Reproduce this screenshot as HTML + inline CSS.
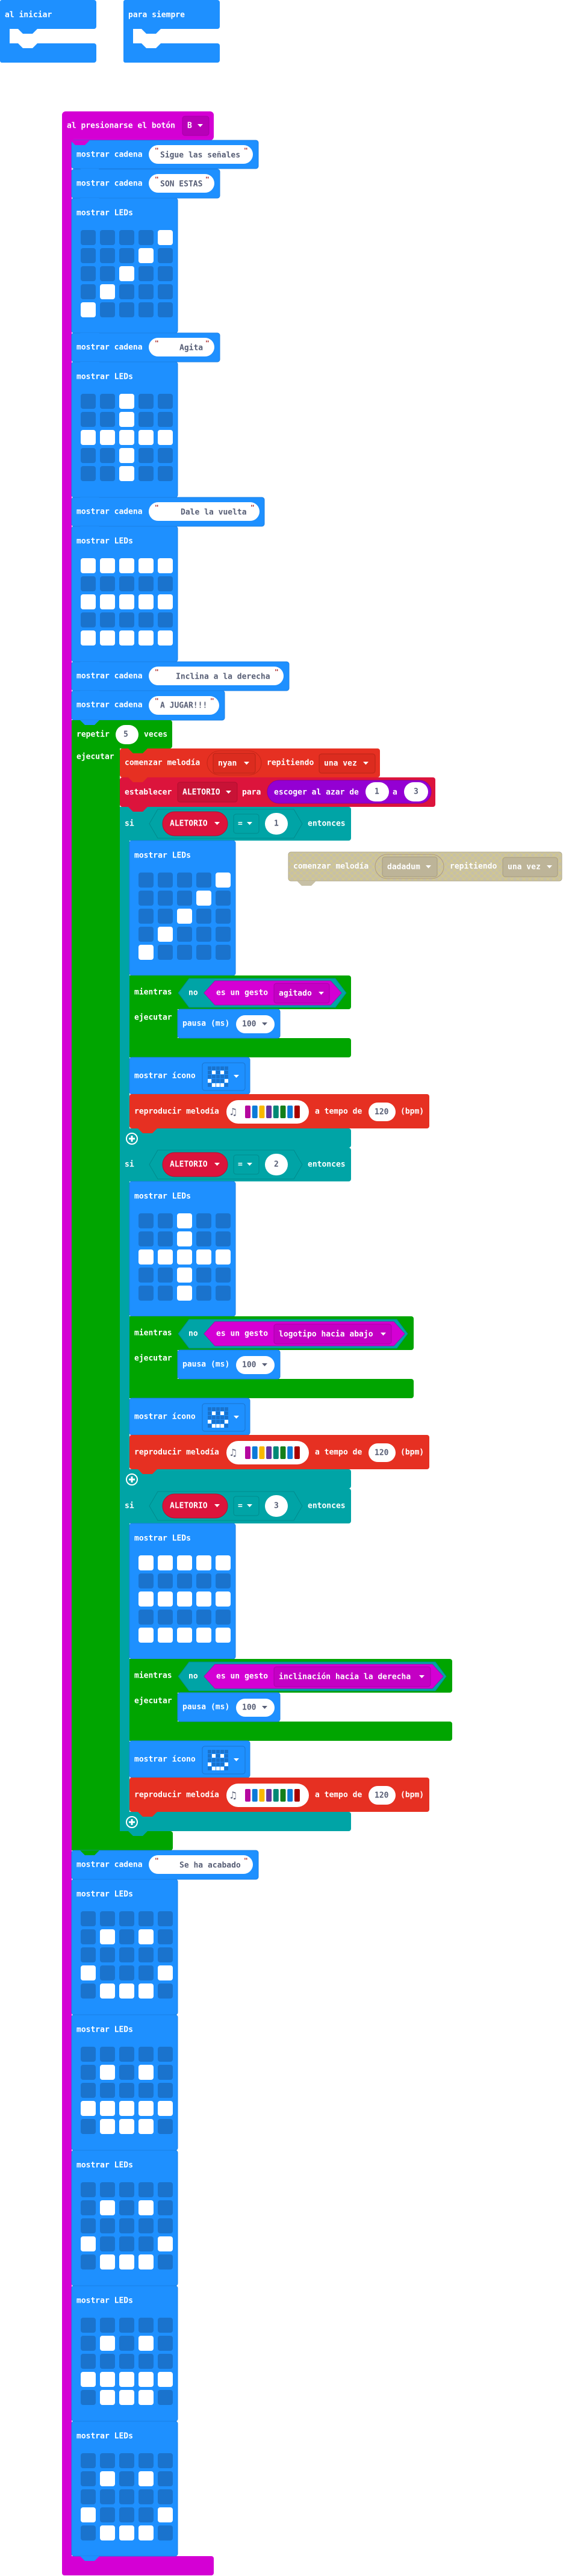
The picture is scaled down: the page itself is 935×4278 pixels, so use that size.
<!DOCTYPE html>
<html><head><meta charset="utf-8"><style>
html,body{margin:0;padding:0;background:#fff;}
svg{display:block;}
text{font-family:"DejaVu Sans Mono","Liberation Mono",monospace;font-weight:bold;font-size:13px;dominant-baseline:central;}
.t{fill:#fff;}
.s{fill:#575e75;}
.q{fill:#a31515;font-size:11px;}
.tri{font-size:9px;}
</style></head><body>
<svg width="935" height="4278" viewBox="0 0 935 4278" xmlns="http://www.w3.org/2000/svg">
<defs>
<pattern id="led" width="32" height="30" patternUnits="userSpaceOnUse"><rect width="25" height="25" rx="4" fill="#1a73cd"/></pattern>
<pattern id="mini" width="7" height="7" patternUnits="userSpaceOnUse"><rect width="6" height="6" fill="#1a73cd"/></pattern>
<pattern id="hatch" width="10" height="10" patternUnits="userSpaceOnUse"><rect width="10" height="10" fill="#c7c0a6"/><path d="M0,0L10,10M10,0L0,10" stroke="#e8d95a" stroke-width="0.7" opacity="0.6"/></pattern>
<g id="diag"><rect width="153" height="145" fill="url(#led)"/><g fill="#fff"><rect x="128" y="0" width="25" height="25" rx="4"/><rect x="96" y="30" width="25" height="25" rx="4"/><rect x="64" y="60" width="25" height="25" rx="4"/><rect x="32" y="90" width="25" height="25" rx="4"/><rect x="0" y="120" width="25" height="25" rx="4"/></g></g>
<g id="plus"><rect width="153" height="145" fill="url(#led)"/><g fill="#fff"><rect x="64" y="0" width="25" height="25" rx="4"/><rect x="64" y="30" width="25" height="25" rx="4"/><rect x="0" y="60" width="25" height="25" rx="4"/><rect x="32" y="60" width="25" height="25" rx="4"/><rect x="64" y="60" width="25" height="25" rx="4"/><rect x="96" y="60" width="25" height="25" rx="4"/><rect x="128" y="60" width="25" height="25" rx="4"/><rect x="64" y="90" width="25" height="25" rx="4"/><rect x="64" y="120" width="25" height="25" rx="4"/></g></g>
<g id="row"><rect x="0" width="25" height="25" rx="4"/><rect x="32" width="25" height="25" rx="4"/><rect x="64" width="25" height="25" rx="4"/><rect x="96" width="25" height="25" rx="4"/><rect x="128" width="25" height="25" rx="4"/></g>
<g id="stripes"><rect width="153" height="145" fill="url(#led)"/><g fill="#fff"><use href="#row" y="0"/><use href="#row" y="60"/><use href="#row" y="120"/></g></g>
<g id="smile"><rect width="153" height="145" fill="url(#led)"/><g fill="#fff"><rect x="32" y="30" width="25" height="25" rx="4"/><rect x="96" y="30" width="25" height="25" rx="4"/><rect x="0" y="90" width="25" height="25" rx="4"/><rect x="128" y="90" width="25" height="25" rx="4"/><rect x="32" y="120" width="25" height="25" rx="4"/><rect x="64" y="120" width="25" height="25" rx="4"/><rect x="96" y="120" width="25" height="25" rx="4"/></g></g>
<g id="smile2"><rect width="153" height="145" fill="url(#led)"/><g fill="#fff"><rect x="32" y="30" width="25" height="25" rx="4"/><rect x="96" y="30" width="25" height="25" rx="4"/><use href="#row" y="90"/><rect x="32" y="120" width="25" height="25" rx="4"/><rect x="64" y="120" width="25" height="25" rx="4"/><rect x="96" y="120" width="25" height="25" rx="4"/></g></g>
<g id="icon"><rect x="0" y="0" width="71" height="46" rx="4" fill="#1e90ff" stroke="#1a73cd"/><g transform="translate(9,6)"><rect width="34" height="34" fill="url(#mini)"/><g fill="#fff"><rect x="7" y="7" width="6" height="6"/><rect x="21" y="7" width="6" height="6"/><rect x="0" y="21" width="6" height="6"/><rect x="28" y="21" width="6" height="6"/><rect x="7" y="28" width="6" height="6"/><rect x="14" y="28" width="6" height="6"/><rect x="21" y="28" width="6" height="6"/></g></g><path d="M52,20h9l-4.5,5z" fill="#fff"/></g>
<g id="bars"><rect x="0" width="9" height="21" rx="2" fill="#b5089f"/><rect x="11.7" width="9" height="21" rx="2" fill="#0b7ad8"/><rect x="23.4" width="9" height="21" rx="2" fill="#f8b900"/><rect x="35.1" width="9" height="21" rx="2" fill="#64339e"/><rect x="46.8" width="9" height="21" rx="2" fill="#008876"/><rect x="58.5" width="9" height="21" rx="2" fill="#137f1a"/><rect x="70.2" width="9" height="21" rx="2" fill="#0b7ad8"/><rect x="81.9" width="9" height="21" rx="2" fill="#a80000"/></g>
<g id="plusc"><circle r="9" fill="none" stroke="#fff" stroke-width="2"/><path d="M-5,0h10M0,-5v10" stroke="#fff" stroke-width="3"/></g>
</defs>

<!-- top blocks -->
<g fill="#1e90ff">
<rect x="0" y="0" width="160" height="48" rx="4"/><rect x="0" y="0" width="16" height="104" rx="3"/><rect x="0" y="72" width="160" height="32" rx="4"/>
<path d="M30,48l8,8h16l8,-8z"/>
<rect x="205" y="0" width="160" height="48" rx="4"/><rect x="205" y="0" width="16" height="104" rx="3"/><rect x="205" y="72" width="160" height="32" rx="4"/>
<path d="M235,48l8,8h16l8,-8z"/>
</g>
<path d="M30,72l8,8h16l8,-8z M235,72l8,8h16l8,-8z" fill="#fff"/>
<text class="t" x="8" y="25">al iniciar</text>
<text class="t" x="213" y="25">para siempre</text>

<!-- hat -->
<g fill="#d400d4">
<rect x="103" y="185" width="252" height="48" rx="6"/>
<rect x="103" y="200" width="16" height="4070"/>
<rect x="103" y="4245" width="252" height="32" rx="4"/>
</g>
<text class="t" x="111" y="209">al presionarse el botón</text>
<rect x="303" y="193" width="44" height="32" rx="4" fill="#b800b8" stroke="#a600a6"/>
<text class="t" x="311" y="209">B</text><path d="M328,206h9l-4.5,5z" fill="#fff"/>

<!-- cadena blocks -->
<g fill="#1e90ff" stroke="#1a7fe6" stroke-width="1">
<rect x="119" y="233" width="310" height="47" rx="4"/>
<rect x="119" y="281" width="246" height="48" rx="4"/>
<rect x="119" y="329" width="176" height="224" rx="4"/>
<rect x="119" y="553" width="246" height="48" rx="4"/>
<rect x="119" y="601" width="176" height="225" rx="4"/>
<rect x="119" y="826" width="320" height="48" rx="4"/>
<rect x="119" y="874" width="176" height="225" rx="4"/>
<rect x="119" y="1099" width="361" height="48" rx="4"/>
<rect x="119" y="1147" width="254" height="49" rx="4"/>
</g>
<g fill="#fff">
<rect x="247" y="241" width="173" height="31" rx="15.5"/>
<rect x="247" y="289" width="109" height="31" rx="15.5"/>
<rect x="247" y="561" width="109" height="31" rx="15.5"/>
<rect x="247" y="834" width="184" height="31" rx="15.5"/>
<rect x="247" y="1107" width="224" height="31" rx="15.5"/>
<rect x="247" y="1156" width="117" height="31" rx="15.5"/>
</g>
<text class="t" x="127" y="257">mostrar cadena</text>
<text class="q" x="257" y="250">"</text><text class="s" x="266" y="258">Sigue las señales</text><text class="q" x="405" y="250">"</text>
<text class="t" x="127" y="305">mostrar cadena</text>
<text class="q" x="257" y="298">"</text><text class="s" x="266" y="306">SON ESTAS</text><text class="q" x="341" y="298">"</text>
<text class="t" x="127" y="354">mostrar LEDs</text>
<use href="#diag" x="134" y="382"/>
<text class="t" x="127" y="577">mostrar cadena</text>
<text class="q" x="257" y="570">"</text><text class="s" x="298" y="578">Agita</text><text class="q" x="341" y="570">"</text>
<text class="t" x="127" y="626">mostrar LEDs</text>
<use href="#plus" x="134" y="654"/>
<text class="t" x="127" y="850">mostrar cadena</text>
<text class="q" x="257" y="843">"</text><text class="s" x="300" y="851">Dale la vuelta</text><text class="q" x="416" y="843">"</text>
<text class="t" x="127" y="899">mostrar LEDs</text>
<use href="#stripes" x="134" y="927"/>
<text class="t" x="127" y="1123">mostrar cadena</text>
<text class="q" x="257" y="1116">"</text><text class="s" x="292" y="1124">Inclina a la derecha</text><text class="q" x="456" y="1116">"</text>
<text class="t" x="127" y="1171">mostrar cadena</text>
<text class="q" x="257" y="1164">"</text><text class="s" x="266" y="1172">A JUGAR!!!</text><text class="q" x="349" y="1164">"</text>

<!-- repetir -->
<g fill="#00a500">
<rect x="119" y="1196" width="167" height="47" rx="4"/>
<rect x="119" y="1196" width="80" height="1877"/>
<rect x="119" y="3041" width="168" height="32" rx="4"/>
</g>
<text class="t" x="127" y="1220">repetir</text>
<rect x="192" y="1204" width="38" height="32" rx="16" fill="#fff"/><text class="s" x="205" y="1220">5</text>
<text class="t" x="239" y="1220">veces</text>
<text class="t" x="127" y="1257">ejecutar</text>

<!-- comenzar melodia -->
<rect x="199" y="1243" width="432" height="48" rx="4" fill="#e63022"/>
<text class="t" x="207" y="1267">comenzar melodía</text>
<rect x="344" y="1247" width="90" height="40" rx="20" fill="none" stroke="#c42618"/>
<rect x="354" y="1251" width="70" height="33" rx="4" fill="#dc2c1f" stroke="#b82417"/>
<text class="t" x="362" y="1268">nyan</text><path d="M405,1265h9l-4.5,5z" fill="#fff"/>
<text class="t" x="443" y="1267">repitiendo</text>
<rect x="530" y="1252" width="93" height="32" rx="4" fill="#dc2c1f" stroke="#b82417"/>
<text class="t" x="538" y="1268">una vez</text><path d="M603,1265h9l-4.5,5z" fill="#fff"/>

<!-- establecer -->
<rect x="199" y="1291" width="524" height="49" rx="4" fill="#dc143c"/>
<text class="t" x="207" y="1316">establecer</text>
<rect x="295" y="1299" width="99" height="33" rx="4" fill="#c81236" stroke="#b00f2e"/>
<text class="t" x="303" y="1316">ALETORIO</text><path d="M375,1313h9l-4.5,5z" fill="#fff"/>
<text class="t" x="402" y="1316">para</text>
<rect x="444" y="1296" width="272" height="38" rx="19" fill="#9400d3" stroke="#7d00b3"/>
<text class="t" x="455" y="1316">escoger al azar de</text>
<rect x="607" y="1299" width="39" height="32" rx="16" fill="#fff"/><text class="s" x="622" y="1315">1</text>
<text class="t" x="652" y="1316">a</text>
<rect x="671" y="1299" width="40" height="32" rx="16" fill="#fff"/><text class="s" x="687" y="1315">3</text>

<!-- si blocks -->
<g fill="#00a4a6">
<rect x="199" y="1340" width="384" height="56" rx="4"/>
<rect x="199" y="1340" width="16" height="566"/>
<rect x="199" y="1874" width="384" height="32" rx="4"/>
<rect x="199" y="1906" width="384" height="56" rx="4"/>
<rect x="199" y="1906" width="16" height="566"/>
<rect x="199" y="2440" width="384" height="32" rx="4"/>
<rect x="199" y="2472" width="384" height="58" rx="4"/>
<rect x="199" y="2472" width="16" height="569"/>
<rect x="199" y="3009" width="384" height="32" rx="4"/>
</g>
<g id="si1">
<text class="t" x="207" y="1368">si</text>
<polygon points="262,1344 488,1344 502,1368 488,1392 262,1392 248,1368" fill="#00a4a6" stroke="#008b8d"/>
<rect x="270" y="1348" width="108" height="40" rx="20" fill="#dc143c" stroke="#b50f30"/>
<text class="t" x="282" y="1368">ALETORIO</text><path d="M356,1365h9l-4.5,5z" fill="#fff"/>
<rect x="388" y="1352" width="42" height="32" rx="4" fill="#00a4a6" stroke="#008b8d"/>
<text class="t" x="395" y="1368">=</text><path d="M410,1365h9l-4.5,5z" fill="#fff"/>
<rect x="440" y="1350" width="38" height="36" rx="18" fill="#fff"/><text class="s" x="455" y="1368">1</text>
<text class="t" x="511" y="1368">entonces</text>
</g>
<use href="#si1" y="566"/>
<text class="s" x="455" y="1934" fill="#fff"> </text>
<use href="#si1" y="1133"/>
<!-- number overrides -->
<rect x="441" y="1917" width="36" height="34" rx="17" fill="#fff"/><text class="s" x="455" y="1934">2</text>
<rect x="441" y="2484" width="36" height="34" rx="17" fill="#fff"/><text class="s" x="455" y="2501">3</text>

<!-- LEDs in si -->
<g fill="#1e90ff" stroke="#1a7fe6">
<rect x="215" y="1396" width="176" height="224" rx="4"/>
<rect x="215" y="1962" width="176" height="224" rx="4"/>
<rect x="215" y="2530" width="176" height="225" rx="4"/>
</g>
<text class="t" x="223" y="1421">mostrar LEDs</text><use href="#diag" x="230" y="1449"/>
<text class="t" x="223" y="1987">mostrar LEDs</text><use href="#plus" x="230" y="2015"/>
<text class="t" x="223" y="2555">mostrar LEDs</text><use href="#stripes" x="230" y="2583"/>

<!-- mientras 1 (Y=1620) -->
<g fill="#00a500"><rect x="215" y="1620" width="368" height="56" rx="4"/><rect x="215" y="1620" width="80" height="136"/><rect x="215" y="1724" width="368" height="32" rx="4"/></g>
<text class="t" x="223" y="1648">mientras</text><text class="t" x="223" y="1690">ejecutar</text>
<polygon points="296,1649 314,1625 557,1625 575,1649 557,1673 314,1673" fill="#00a4a6" stroke="#008b8d"/>
<text class="t" x="313" y="1649">no</text>
<polygon points="339,1649 357,1629 549,1629 567,1649 549,1669 357,1669" fill="#d400d4" stroke="#b000b0"/>
<text class="t" x="359" y="1649">es un gesto</text>
<rect x="455" y="1633" width="92" height="33" rx="4" fill="#c400c4" stroke="#a800a8"/>
<text class="t" x="463" y="1650">agitado</text><path d="M529,1647h9l-4.5,5z" fill="#fff"/>

<!-- mientras 2 (Y=2186) -->
<g fill="#00a500"><rect x="215" y="2186" width="472" height="56" rx="4"/><rect x="215" y="2186" width="80" height="136"/><rect x="215" y="2290" width="472" height="32" rx="4"/></g>
<text class="t" x="223" y="2214">mientras</text><text class="t" x="223" y="2256">ejecutar</text>
<polygon points="296,2215 314,2191 659,2191 677,2215 659,2239 314,2239" fill="#00a4a6" stroke="#008b8d"/>
<text class="t" x="313" y="2215">no</text>
<polygon points="339,2215 357,2195 654,2195 672,2215 654,2235 357,2235" fill="#d400d4" stroke="#b000b0"/>
<text class="t" x="359" y="2215">es un gesto</text>
<rect x="455" y="2199" width="195" height="33" rx="4" fill="#c400c4" stroke="#a800a8"/>
<text class="t" x="463" y="2216">logotipo hacia abajo</text><path d="M632,2213h9l-4.5,5z" fill="#fff"/>

<!-- mientras 3 (Y=2755) -->
<g fill="#00a500"><rect x="215" y="2755" width="536" height="56" rx="4"/><rect x="215" y="2755" width="80" height="136"/><rect x="215" y="2859" width="536" height="32" rx="4"/></g>
<text class="t" x="223" y="2783">mientras</text><text class="t" x="223" y="2825">ejecutar</text>
<polygon points="296,2784 314,2760 723,2760 741,2784 723,2808 314,2808" fill="#00a4a6" stroke="#008b8d"/>
<text class="t" x="313" y="2784">no</text>
<polygon points="339,2784 357,2764 718,2764 736,2784 718,2804 357,2804" fill="#d400d4" stroke="#b000b0"/>
<text class="t" x="359" y="2784">es un gesto</text>
<rect x="455" y="2768" width="260" height="33" rx="4" fill="#c400c4" stroke="#a800a8"/>
<text class="t" x="463" y="2785">inclinación hacia la derecha</text><path d="M696,2782h9l-4.5,5z" fill="#fff"/>

<!-- pausa / icono / reproducir : template at Y=1620 -->
<g id="body1">
<rect x="295" y="1676" width="170" height="48" rx="4" fill="#1e90ff" stroke="#1a7fe6"/>
<text class="t" x="303" y="1700">pausa (ms)</text>
<rect x="392" y="1686" width="64" height="30" rx="15" fill="#fff"/>
<text class="s" x="402" y="1701">100</text><path d="M435,1698h9l-4.5,5z" fill="#575e75"/>
<rect x="215" y="1756" width="200" height="61" rx="4" fill="#1e90ff" stroke="#1a7fe6"/>
<text class="t" x="223" y="1787">mostrar ícono</text>
<use href="#icon" x="336" y="1765"/>
<rect x="215" y="1817" width="498" height="57" rx="4" fill="#e63022"/>
<text class="t" x="223" y="1846">reproducir melodía</text>
<rect x="376" y="1827" width="137" height="39" rx="19.5" fill="#fff"/>
<text class="s" x="382" y="1847" style="font-size:17px">♫</text>
<use href="#bars" x="407" y="1836"/>
<text class="t" x="523" y="1846">a tempo de</text>
<rect x="612" y="1831" width="45" height="31" rx="15.5" fill="#fff"/>
<text class="s" x="622" y="1847">120</text>
<text class="t" x="665" y="1846">(bpm)</text>
<use href="#plusc" x="219" y="1891"/>
<path d="M229,1874l8,8h16l8,-8z" fill="#e63022"/>
</g>
<use href="#body1" y="566"/>
<use href="#body1" y="1135"/>

<!-- end of repeat -->
<path d="M213,3041l8,8h16l8,-8z" fill="#00a4a6"/>
<g fill="#1e90ff" stroke="#1a7fe6">
<rect x="119" y="3073" width="310" height="48" rx="4"/>
<rect x="119" y="3121" width="176" height="225" rx="4"/>
<rect x="119" y="3346" width="176" height="225" rx="4"/>
<rect x="119" y="3571" width="176" height="225" rx="4"/>
<rect x="119" y="3796" width="176" height="225" rx="4"/>
<rect x="119" y="4021" width="176" height="224" rx="4"/>
</g>
<path d="M133,3073l8,8h16l8,-8z" fill="#00a500"/>
<rect x="247" y="3081" width="173" height="31" rx="15.5" fill="#fff"/>
<text class="t" x="127" y="3097">mostrar cadena</text>
<text class="q" x="257" y="3090">"</text><text class="s" x="298" y="3098">Se ha acabado</text><text class="q" x="405" y="3090">"</text>
<text class="t" x="127" y="3146">mostrar LEDs</text><use href="#smile" x="134" y="3174"/>
<text class="t" x="127" y="3371">mostrar LEDs</text><use href="#smile2" x="134" y="3399"/>
<text class="t" x="127" y="3596">mostrar LEDs</text><use href="#smile" x="134" y="3624"/>
<text class="t" x="127" y="3821">mostrar LEDs</text><use href="#smile2" x="134" y="3849"/>
<text class="t" x="127" y="4046">mostrar LEDs</text><use href="#smile" x="134" y="4074"/>
<path d="M133,4245l8,8h16l8,-8z" fill="#1e90ff"/>

<!-- block tabs (top section) -->
<g fill="#1e90ff">
<path d="M133,280l8,8h16l8,-8z"/><path d="M133,329l8,8h16l8,-8z"/><path d="M133,553l8,8h16l8,-8z"/><path d="M133,601l8,8h16l8,-8z"/><path d="M133,826l8,8h16l8,-8z"/><path d="M133,874l8,8h16l8,-8z"/><path d="M133,1099l8,8h16l8,-8z"/><path d="M133,1147l8,8h16l8,-8z"/><path d="M133,1196l8,8h16l8,-8z"/>
</g>
<path d="M117,233l8,8h16l8,-8z" fill="#d400d4"/>
<path d="M213,1291l8,8h16l8,-8z" fill="#e63022"/>
<path d="M213,1340l8,8h16l8,-8z" fill="#dc143c"/>
<path d="M213,1243l8,8h16l8,-8z" fill="#00a500"/>

<!-- disabled block -->
<rect x="479" y="1415" width="454" height="48" rx="4" fill="url(#hatch)" stroke="#b0a88e"/>
<path d="M493,1463l8,8h16l8,-8z" fill="#c7c0a6"/>
<text class="t" x="487" y="1439">comenzar melodía</text>
<rect x="623" y="1419" width="114" height="40" rx="20" fill="none" stroke="#b09c7e"/>
<rect x="635" y="1423" width="91" height="33" rx="4" fill="#bdb498" stroke="#a89d80"/>
<text class="t" x="643" y="1440">dadadum</text><path d="M707,1437h9l-4.5,5z" fill="#fff"/>
<text class="t" x="747" y="1439">repitiendo</text>
<rect x="835" y="1424" width="91" height="32" rx="4" fill="#bdb498" stroke="#a89d80"/>
<text class="t" x="843" y="1440">una vez</text><path d="M908,1437h9l-4.5,5z" fill="#fff"/>
</svg>
</body></html>
